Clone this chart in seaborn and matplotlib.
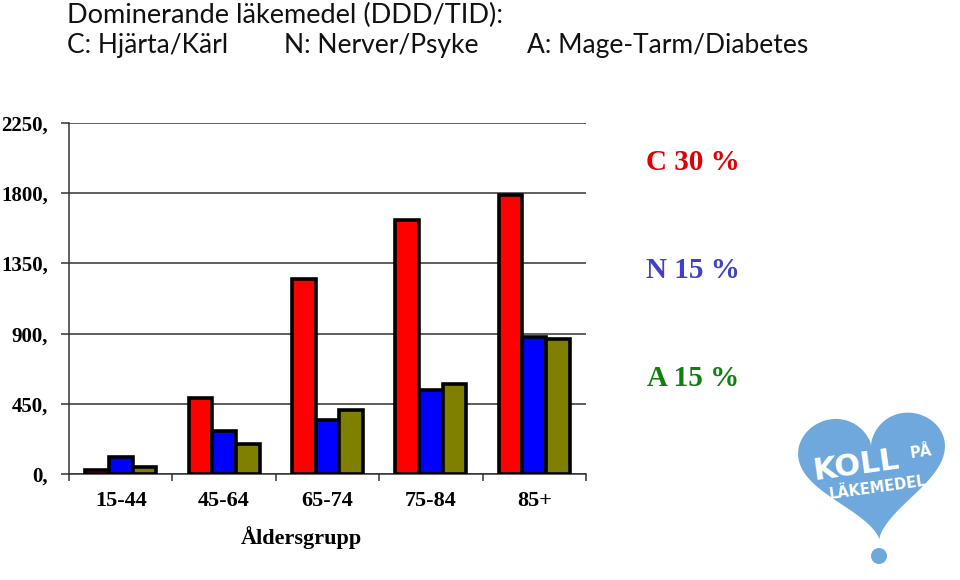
import numpy as np
import pandas as pd
import matplotlib
matplotlib.use("Agg")
import matplotlib.pyplot as plt
import seaborn as sns
from matplotlib.patches import Polygon, Circle

# ---- data ----
age_groups = ["15-44", "45-64", "65-74", "75-84", "85+"]
series = ["C", "N", "A"]
c_values = [26, 485, 1250, 1628, 1790]
n_values = [107, 274, 346, 538, 880]
a_values = [47, 194, 410, 577, 865]
y_ticks = [0, 450, 900, 1350, 1800, 2250]
y_tick_labels = ["0,", "450,", "900,", "1350,", "1800,", "2250,"]
title_line1 = "Dominerande läkemedel (DDD/TID):"
title_parts = ["C: Hjärta/Kärl", "N: Nerver/Psyke", "A: Mage-Tarm/Diabetes"]
share_labels = ["C 30 %", "N 15 %", "A 15 %"]
x_title = "Åldersgrupp"

df = pd.DataFrame({
    "group": age_groups * 3,
    "series": ["C"] * 5 + ["N"] * 5 + ["A"] * 5,
    "value": c_values + n_values + a_values,
})

sns.set_theme(style="white")
plt.rcParams["font.family"] = ["Liberation Serif", "DejaVu Serif"]

W, H = 960, 580
fig = plt.figure(figsize=(9.6, 5.8), dpi=100)
ax = fig.add_axes([69 / W, 1 - 474 / H, (586 - 69) / W, (474 - 123) / H])

palette = {"C": "#ff0000", "N": "#0000ff", "A": "#808000"}
sns.barplot(data=df, x="group", y="value", hue="series", order=age_groups,
            hue_order=series, palette=palette, width=0.687, saturation=1,
            edgecolor="black", linewidth=2.6, legend=False, ax=ax, zorder=3)

ax.set_ylim(0, 2250)
ax.set_xlim(-0.5, 4.5)
ax.set_yticks(y_ticks)
ax.set_yticklabels(y_tick_labels, fontsize=15, fontweight="bold")
ax.yaxis.grid(True, color="#333333", linewidth=1.1, zorder=0)
ax.set_axisbelow(True)
for s in ["top", "right"]:
    ax.spines[s].set_visible(False)
for s in ["left", "bottom"]:
    ax.spines[s].set_color("#333333")
    ax.spines[s].set_linewidth(1.1)
ax.tick_params(axis="y", which="major", direction="out", length=6, width=1.1,
               color="#333333", pad=9, left=True, labelcolor="black")
ax.set_xticks(range(len(age_groups)))
ax.set_xticklabels(age_groups, fontsize=16, fontweight="bold")
ax.set_xticks(np.arange(-0.5, 5.0, 1.0), minor=True)
ax.tick_params(axis="x", which="major", length=0, pad=12, labelcolor="black")
ax.tick_params(axis="x", which="minor", direction="out", length=5, width=1.1,
               color="#333333", bottom=True)
ax.set_xlabel(x_title, fontsize=16, fontweight="bold", color="black")
ax.xaxis.set_label_coords((301.7 - 69) / (586 - 69), -(538 - 474) / (474 - 123))
ax.xaxis.label.set_verticalalignment("center")
ax.set_ylabel("")

# ---- overlay in pixel coordinates for titles and logo ----
ov = fig.add_axes([0, 0, 1, 1], zorder=-1)
ov.set_xlim(0, W)
ov.set_ylim(H, 0)
ov.axis("off")

tfont = dict(family=["Lato", "DejaVu Sans"], fontweight="normal", fontsize=19,
             color="#111111", va="center", ha="left")
ov.text(67, 15, title_line1, fontsize=19.5,
        **{k: v for k, v in tfont.items() if k != "fontsize"})
for xpos, txt in zip([67, 284, 527], title_parts):
    ov.text(xpos, 46, txt, **tfont)

share_colors = ["#e00000", "#4040c8", "#108010"]
for ypos, txt, col in zip([163, 271, 378], share_labels, share_colors):
    ov.text(693, ypos, txt, fontsize=21, fontweight="bold", color=col,
            ha="center", va="center", family=["Liberation Serif", "DejaVu Serif"])

# logo: heart with text
t = np.linspace(0, 2 * np.pi, 400)
hx = 16 * np.sin(t) ** 3
hy = 13 * np.cos(t) - 5 * np.cos(2 * t) - 2 * np.cos(3 * t) - np.cos(4 * t)
ang = np.deg2rad(-5)
px = hx * 4.6
py = -hy * 4.3
rx = px * np.cos(ang) - py * np.sin(ang) + 873
ry = px * np.sin(ang) + py * np.cos(ang) + 467
heart_col = "#6fa8dc"
ov.add_patch(Polygon(np.column_stack([rx, ry]), closed=True, facecolor=heart_col,
                     edgecolor="none", zorder=2))
ov.add_patch(Circle((879, 556), 8, facecolor=heart_col, edgecolor="none", zorder=2))
lfont = dict(family=["DejaVu Sans"], fontweight="heavy", color="white",
             ha="center", va="center", zorder=3)
ov.text(856, 466, "KOLL", fontsize=22, rotation=8, **lfont)
ov.text(921, 452, "PÅ", fontsize=10.5, rotation=8, **lfont)
ov.text(878, 488, "LÄKEMEDEL", fontsize=10.5, rotation=8, **lfont)

fig.savefig("out.png", dpi=100, facecolor="white")
